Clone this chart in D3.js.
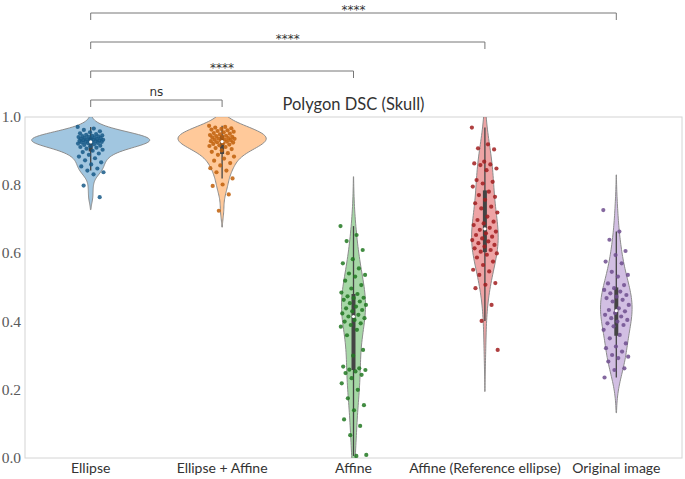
<!DOCTYPE html>
<html>
<head>
<meta charset="utf-8">
<script src="https://cdn.jsdelivr.net/npm/d3@7"></script>
<style>
  body { margin: 0; background: #fff; }
</style>
</head>
<body>
<div id="chart"></div>
<script>
var categories = ['Ellipse', 'Ellipse + Affine', 'Affine', 'Affine (Reference ellipse)', 'Original image'];

var ellipse = [0.971, 0.966, 0.962, 0.958, 0.955, 0.952, 0.95, 0.948, 0.946, 0.945, 0.944, 0.943, 0.942, 0.941,
  0.94, 0.939, 0.938, 0.937, 0.936, 0.935, 0.934, 0.933, 0.933, 0.932, 0.931, 0.93, 0.93, 0.929, 0.928, 0.927,
  0.926, 0.925, 0.924, 0.923, 0.922, 0.92, 0.918, 0.916, 0.914, 0.912, 0.91, 0.907, 0.904, 0.901, 0.897, 0.893,
  0.889, 0.884, 0.879, 0.873, 0.867, 0.861, 0.855, 0.849, 0.843, 0.838, 0.832, 0.799, 0.765];

var ellipseAffine = [0.974, 0.971, 0.969, 0.967, 0.965, 0.963, 0.961, 0.959, 0.957, 0.955, 0.953, 0.951, 0.949,
  0.947, 0.945, 0.944, 0.942, 0.941, 0.94, 0.938, 0.937, 0.936, 0.934, 0.933, 0.932, 0.93, 0.929, 0.928, 0.926,
  0.925, 0.923, 0.921, 0.919, 0.917, 0.915, 0.912, 0.909, 0.906, 0.902, 0.898, 0.894, 0.889, 0.884, 0.878, 0.872,
  0.865, 0.858, 0.85, 0.843, 0.838, 0.82, 0.802, 0.798, 0.773, 0.725];

var affine = [0.68, 0.654, 0.636, 0.61, 0.583, 0.571, 0.556, 0.541, 0.537, 0.532, 0.52, 0.507, 0.497, 0.485,
  0.481, 0.474, 0.47, 0.469, 0.464, 0.459, 0.454, 0.449, 0.444, 0.439, 0.434, 0.43, 0.424, 0.42, 0.415, 0.41,
  0.405, 0.4, 0.395, 0.39, 0.385, 0.376, 0.36, 0.317, 0.3, 0.268, 0.263, 0.259, 0.258, 0.254, 0.249, 0.244,
  0.234, 0.219, 0.2, 0.175, 0.155, 0.14, 0.113, 0.094, 0.067, 0.009, 0.006];

var affineRef = [0.969, 0.92, 0.908, 0.905, 0.869, 0.864, 0.861, 0.859, 0.849, 0.844, 0.815, 0.81, 0.805, 0.796,
  0.781, 0.771, 0.766, 0.757, 0.747, 0.737, 0.732, 0.72, 0.708, 0.698, 0.693, 0.688, 0.683, 0.675, 0.669, 0.664,
  0.659, 0.654, 0.649, 0.644, 0.639, 0.635, 0.63, 0.625, 0.62, 0.615, 0.61, 0.605, 0.6, 0.596, 0.588, 0.576,
  0.566, 0.552, 0.547, 0.537, 0.513, 0.508, 0.498, 0.449, 0.402, 0.317];

var original = [0.727, 0.664, 0.64, 0.607, 0.595, 0.576, 0.571, 0.546, 0.537, 0.532, 0.512, 0.507, 0.498, 0.493,
  0.488, 0.483, 0.478, 0.473, 0.469, 0.464, 0.459, 0.449, 0.439, 0.434, 0.43, 0.425, 0.42, 0.415, 0.41, 0.405,
  0.4, 0.395, 0.39, 0.386, 0.376, 0.361, 0.351, 0.336, 0.327, 0.322, 0.312, 0.302, 0.297, 0.293, 0.283, 0.263,
  0.258, 0.236];

var series = [ellipse, ellipseAffine, affine, affineRef, original];
var colors = ['#1f77b4', '#ff7f0e', '#2ca02c', '#d62728', '#9467bd'];
var yTicks = [0, 0.2, 0.4, 0.6, 0.8, 1.0];

var comparisons = [
  {from: 0, to: 1, label: 'ns'},
  {from: 0, to: 2, label: '****'},
  {from: 0, to: 3, label: '****'},
  {from: 0, to: 4, label: '****'}
];

var width = 685, height = 479;
var margin = {top: 117, right: 3, bottom: 21, left: 25};

var svg = d3.select('#chart').append('svg')
    .attr('width', width)
    .attr('height', height);

var x = d3.scaleBand()
    .domain(categories)
    .range([margin.left, width - margin.right]);

var y = d3.scaleLinear()
    .domain([0, 1])
    .range([height - margin.bottom, margin.top]);

// gaussian kde, scott bandwidth, cut = 2 (like seaborn)
function kde(values) {
  var n = values.length;
  var bw = d3.deviation(values) * Math.pow(n, -0.2);
  var lo = d3.min(values) - 2 * bw, hi = d3.max(values) + 2 * bw;
  return d3.range(100).map(function(i) {
    var g = lo + (hi - lo) * i / 99;
    var s = d3.sum(values, function(v) { return Math.exp(-0.5 * Math.pow((g - v) / bw, 2)); });
    return [g, s / (n * bw * Math.sqrt(2 * Math.PI))];
  });
}

var densities = series.map(kde);
var maxDensity = d3.max(densities, function(d) { return d3.max(d, function(p) { return p[1]; }); });
var w = d3.scaleLinear().domain([0, maxDensity]).range([0, 59]);

svg.append('clipPath').attr('id', 'plot-clip')
  .append('rect')
    .attr('x', margin.left)
    .attr('y', margin.top)
    .attr('width', width - margin.left - margin.right)
    .attr('height', height - margin.top - margin.bottom);

// frame
svg.append('rect')
    .attr('x', margin.left)
    .attr('y', margin.top)
    .attr('width', width - margin.left - margin.right)
    .attr('height', height - margin.top - margin.bottom)
    .attr('fill', 'none')
    .attr('stroke', '#d4d4d4')
    .attr('stroke-width', 1);

var plot = svg.append('g').attr('clip-path', 'url(#plot-clip)');

categories.forEach(function(cat, i) {
  var cx = x(cat) + x.bandwidth() / 2;
  var vals = series[i].slice().sort(d3.ascending);
  var area = d3.area()
      .y(function(d) { return y(d[0]); })
      .x0(function(d) { return cx - w(d[1]); })
      .x1(function(d) { return cx + w(d[1]); });

  plot.append('path')
      .datum(densities[i])
      .attr('d', area)
      .attr('fill', colors[i])
      .attr('fill-opacity', 0.42)
      .attr('stroke', '#8c8c8c')
      .attr('stroke-width', 1);

  // inner box
  var q1 = d3.quantile(vals, 0.25), med = d3.quantile(vals, 0.5), q3 = d3.quantile(vals, 0.75);
  var lim = 1.5 * (q3 - q1);
  var lowW = d3.min(vals.filter(function(v) { return v >= q1 - lim; }));
  var highW = d3.max(vals.filter(function(v) { return v <= q3 + lim; }));

  plot.append('line')
      .attr('x1', cx).attr('x2', cx)
      .attr('y1', y(lowW)).attr('y2', y(highW))
      .attr('stroke', '#444').attr('stroke-width', 1.3);
  plot.append('line')
      .attr('x1', cx).attr('x2', cx)
      .attr('y1', y(q1)).attr('y2', y(q3))
      .attr('stroke', '#444').attr('stroke-width', 4);

  // strip points with fixed jitter
  plot.append('g').selectAll('circle')
    .data(series[i])
    .join('circle')
      .attr('cx', function(d, j) { return cx + (((j * 0.618034) % 1) * 2 - 1) * 13; })
      .attr('cy', function(d) { return y(d); })
      .attr('r', 2.1)
      .attr('fill', d3.color(colors[i]).darker(0.8))
      .attr('fill-opacity', 0.85);

  plot.append('circle')
      .attr('cx', cx).attr('cy', y(med))
      .attr('r', 1.6)
      .attr('fill', '#fff');
});

// y axis labels
svg.append('g').selectAll('text')
  .data(yTicks)
  .join('text')
    .attr('x', margin.left - 4)
    .attr('y', function(d) { return y(d) + 5; })
    .attr('text-anchor', 'end')
    .attr('font-family', 'Liberation Serif, serif')
    .attr('font-size', 15.5)
    .attr('fill', '#5a5a5a')
    .text(function(d) { return d.toFixed(1); });

// x axis labels
svg.append('g').selectAll('text')
  .data(categories)
  .join('text')
    .attr('x', function(d) { return x(d) + x.bandwidth() / 2; })
    .attr('y', height - margin.bottom + 14.5)
    .attr('text-anchor', 'middle')
    .attr('font-family', 'Lato, sans-serif')
    .attr('font-size', 14)
    .attr('fill', '#333')
    .text(function(d) { return d; });

// title
svg.append('text')
    .attr('x', (margin.left + width - margin.right) / 2)
    .attr('y', margin.top - 7)
    .attr('text-anchor', 'middle')
    .attr('font-family', 'Lato, sans-serif')
    .attr('font-size', 16.5)
    .attr('fill', '#333')
    .text('Polygon DSC (Skull)');

// significance brackets
comparisons.forEach(function(c, k) {
  var x1 = x(categories[c.from]) + x.bandwidth() / 2;
  var x2 = x(categories[c.to]) + x.bandwidth() / 2;
  var by = margin.top - 17 - k * 29;
  svg.append('path')
      .attr('d', 'M' + x1 + ',' + (by + 7) + 'V' + by + 'H' + x2 + 'V' + (by + 7))
      .attr('fill', 'none')
      .attr('stroke', '#777')
      .attr('stroke-width', 1);
  svg.append('text')
      .attr('x', (x1 + x2) / 2)
      .attr('y', c.label === 'ns' ? by - 4 : by + 1)
      .attr('text-anchor', 'middle')
      .attr('font-family', 'DejaVu Sans, sans-serif')
      .attr('font-size', 12)
      .attr('fill', '#333')
      .text(c.label);
});
</script>
</body>
</html>
